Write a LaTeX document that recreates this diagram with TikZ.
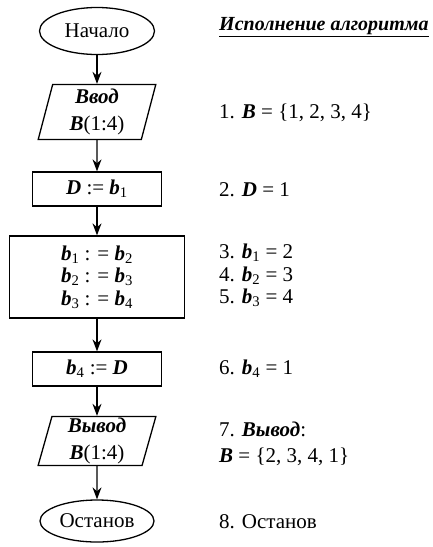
\documentclass[tikz,border=0pt]{standalone}
\usepackage{fontspec}
\setmainfont{Liberation Serif}
\usetikzlibrary{arrows.meta,shapes.geometric}

\newcommand{\bi}[1]{\textbf{\textit{#1}}}
\newcommand{\bsub}[1]{\bi{b}\textsubscript{#1}}

\tikzset{
  term/.style={draw, ellipse, line width=1.3pt, minimum width=115pt, minimum height=47pt, inner sep=0pt},
  io/.style={draw, trapezium, trapezium left angle=79, trapezium right angle=101,
    trapezium stretches=true, line width=1.3pt, minimum width=118pt, minimum height=55pt,
    align=center, inner sep=0pt},
  proc/.style={draw, rectangle, line width=1.3pt, align=center, inner sep=0pt},
  trace/.style={anchor=west, align=left, inner sep=0pt},
}

\begin{document}
\begin{tikzpicture}[x=1pt, y=-1pt, >={Stealth[length=12pt,width=9pt]},
  font=\fontsize{21}{22.5}\selectfont]
  \useasboundingbox (0,0) rectangle (432,547);

  % Flowchart
  \node[term] (start) at (97,31) {Начало};
  \node[io] (in) at (97,112) {\bi{Ввод}\\[4.5pt]\bi{B}(1:4)};
  \node[proc, minimum width=129pt, minimum height=34pt] (setd) at (97,189) {\bi{D} := \bsub{1}};
  \node[proc, minimum width=175pt, minimum height=82pt] (shift) at (97,277)
    {\bsub{1} : = \bsub{2}\\\bsub{2} : = \bsub{3}\\\bsub{3} : = \bsub{4}};
  \node[proc, minimum width=129pt, minimum height=34pt] (setb) at (97,369) {\bsub{4} := \bi{D}};
  \node[io, minimum height=49pt] (out) at (97,441) {\bi{Вывод}\\[4.5pt]\bi{B}(1:4)};
  \node[term, minimum width=114pt, minimum height=42pt] (stop) at (97,521) {Останов};

  % Arrows
  \draw[->, line width=1.3pt] (start) -- (in);
  \draw[->, line width=1.3pt] (in) -- (setd);
  \draw[->, line width=1.3pt] (setd) -- (shift);
  \draw[->, line width=1.3pt] (shift) -- (setb);
  \draw[->, line width=1.3pt] (setb) -- (out);
  \draw[->, line width=1.3pt] (out) -- (stop);

  % Trace of the run
  \node[trace, font=\fontsize{20}{22}\selectfont] (hdr) at (219,27) {\bi{\underline{Исполнение алгоритма}}};
  \node[trace] (t1) at (219,113) {1. \bi{B} = \{1, 2, 3, 4\}};
  \node[trace] (t2) at (219,190) {2. \bi{D} = 1};
  \node[trace] (t3) at (219,253) {3. \bsub{1} = 2};
  \node[trace] (t4) at (219,276) {4. \bsub{2} = 3};
  \node[trace] (t5) at (219,298) {5. \bsub{3} = 4};
  \node[trace] (t6) at (219,369) {6. \bsub{4} = 1};
  \node[trace] (t7) at (219,444) {7. \bi{Вывод}:\\[3.5pt]\bi{B} = \{2, 3, 4, 1\}};
  \node[trace] (t8) at (219,522) {8. Останов};
\end{tikzpicture}
\end{document}
